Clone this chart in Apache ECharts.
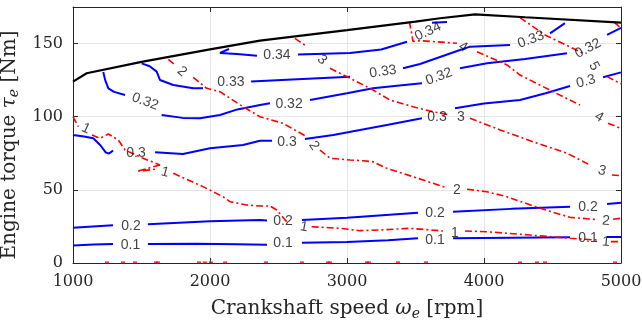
<!DOCTYPE html>
<html><head><meta charset="utf-8">
<script src="https://cdn.jsdelivr.net/npm/echarts@6/dist/echarts.min.js"></script>
<style>html,body{margin:0;padding:0;background:#fff}#c{width:642px;height:324px}</style>
</head><body><div id="c"></div>
<script>
// ---- data (rpm, torque Nm); null = break for a contour label ----
const xTicks = [1000, 2000, 3000, 4000, 5000];
const yTicks = [0, 50, 100, 150];

const maxTorque = [[1000,124],[1100,129.7],[1500,137.5],[2000,146],[2365,152],[3000,159.2],[3500,165],[3679,167.3],[3934,170],[4300,168],[5000,164.3]];

const eff010 = [[1000,12],[1150,12.6],[1292,13],null,[1547,13],[1900,13.1],[2200,12.8],[2416,12.5],null,[2671,13.9],[3000,14.3],[3300,15.5],[3518,16.9],null,[3774,16.9],[4200,17.3],[4628,17.6],null,[4898,17.8],[5000,17.8]];
const eff020 = [[1000,24.1],[1292,25.8],null,[1547,26.5],[2000,28.5],[2365,29.4],[2416,29],null,[2671,29.4],[3000,31],[3518,34.4],null,[3774,35.1],[4200,37],[4628,38.5],null,[4898,40.3],[5000,41.2]];
const eff030 = [[1000,87.5],[1080,86.5],[1148,85.3],[1200,80.5],[1240,75.5],[1262,74.8],[1292,76.8],null,[1599,75.7],[1803,74.5],[2000,78.4],[2241,80.7],[2365,83.6],[2453,83.6],null,[2693,84.8],[2900,87.5],[3095,90.9],[3300,94.5],[3547,98.9],null,[3788,105.8],[4000,109],[4263,111.4],[4450,116],[4628,121],null,[4869,127],[5000,130.3]];
const eff032 = [[1221,130.5],[1235,125],[1258,119.4],[1300,117],[1380,114.8],null,[1647,101.2],[1800,99.2],[1927,98.9],[2073,101.2],[2200,105],[2365,108],[2438,109.2],null,[2730,111.4],[3000,116],[3190,119.4],[3400,121.5],[3547,122.8],null,[3825,133.1],[4022,136.5],[4300,139.5],[4606,143.4],null,[4898,155.9],[5000,160.7]];
const eff033 = [[1501,136.5],[1560,134.5],[1611,130.8],[1635,125.1],[1732,121.7],[1878,119.4],[1949,119.4],null,[2300,124],[2600,125.5],[3022,127.4],null,[3409,133.1],[3533,136],[3679,140.8],[3825,145.6],[3898,147.9],[4190,149],null,[4482,157],[4591,164]];
const eff034 = [[2139,146.3],[2073,143.6],[2197,142.9],[2343,141.7],null,[2642,142.5],[3022,143.6],[3250,146],[3438,151.2],null,[3620,164.3],[3730,164.8]];

const fuel1 = [[1000,100],[1039,93.2],null,[1139,87.5],[1197,85.2],[1258,88.2],[1331,84.1],[1380,77.2],[1511,71.6],[1635,67],null,[1732,61.3],[1949,52.2],[2095,45.3],[2146,41.9],[2270,39.6],[2365,39],[2438,39],[2487,36.2],[2560,28.2],null,[2742,24.8],[2949,23.7],[3095,22.1],[3241,22.6],[3460,23.7],[3700,21.9],null,[3861,21.9],[4022,21.4],[4336,19.1],[4628,16.9],[4825,15.7],null,[4927,14.6],[5000,14.6]];
const fuel1b = [[1635,67],[1467,62.7],[1613,64.2]];
const fuel2 = [[1696,139.2],[1745,135.4],null,[1878,126.9],[1976,119.4],[2073,117.1],[2241,106.8],[2365,100],[2533,95.5],[2620,90.9],[2708,86.3],null,[2803,77.2],[2876,71.6],[3022,70.4],[3117,69.9],[3190,69.2],[3292,64.7],[3482,59],[3730,51.3],null,[3876,50.4],[4022,48.7],[4168,45.3],[4409,37.4],[4628,31.2],[4825,29.7],null,[4942,29.9],[5000,30.6]];
const fuel3 = [[2620,153.6],[2708,147.9],null,[2876,133.1],[3022,126.3],[3190,118.3],[3314,111.4],[3482,106.8],[3628,103.4],[3752,101.2],null,[3898,98.9],[4117,91],[4358,82.9],[4606,75],[4774,67],null,[4934,60.2],[5000,59.7]];
const fuel4 = [[3455,165],[3470,158],[3482,151.5],[3533,152],[3803,150.2],null,[3949,144.4],[4168,135.4],[4263,128.5],[4504,117.1],[4701,108],null,[4905,95.5],[5000,92]];
const fuel5 = [[4263,167.8],[4445,155.9],[4723,143.4],null,[4898,127.4],[5000,122.5]];
const fuel6 = [[4950,164.6],[5000,160.5]];
const bottomMarks = [1248,1365,1453,1606,1620,1920,1963,2007,2110,2409,2671,2861,2876,3146,3160,3372,3577,4263,4387,4445,4956];

// contour label anchors [rpm, torque, text]
const labelPts = [
  [1420,12.5,'0.1'],[2533,13.7,'0.1'],[3642,15.8,'0.1'],[4759,17.1,'0.1'],
  [1423,25.3,'0.2'],[2533,28.4,'0.2'],[3642,34.2,'0.2'],[4759,38.4,'0.2'],
  [1460,75.3,'0.3'],[2562,82.9,'0.3'],[3657,100,'0.3'],[4744,124,'0.3'],
  [1526,110.3,'0.32'],[2577,108.9,'0.32'],[3672,127.4,'0.32'],[4759,146.6,'0.32'],
  [2153,123.3,'0.33'],[3263,130.8,'0.33'],[4343,152.7,'0.33'],
  [2489,141.8,'0.34'],[3591,158.2,'0.34'],
  [1095,91.8,'1'],[1672,62,'1'],[2686,24.7,'1'],[3788,20.5,'1'],[4890,14.4,'1'],
  [1796,130.8,'2'],[2759,80.1,'2'],[3803,50,'2'],[4890,28.8,'2'],
  [2818,139,'3'],[3832,99.7,'3'],[4861,63,'3'],
  [3847,147.6,'4'],[4839,99.7,'4'],
  [4803,134.6,'5']
];
const labelRot = [0,0,0,0, 0,0,0,0, 0,0,0,15, -20,0,20,28, 0,8,20, 0,25,
  -25,-15,-10,0,-5, -40,-55,0,-5, -45,0,-15, -30,-30, -60];

// ---- chart ----
const toData = arr => arr.map(p => p === null ? ['-','-'] : p);
const BLUE = '#0000ff', RED = '#ff0000', INK = '#262626';
const serif = 'DejaVu Serif';

function blue(d){ return {type:'line', data:toData(d), showSymbol:false, symbol:'none', silent:true, z:3,
  lineStyle:{color:BLUE, width:2}}; }
function red(d){ return {type:'line', data:toData(d), showSymbol:false, symbol:'none', silent:true, z:4,
  lineStyle:{color:RED, width:1.6, type:[7,3,2,3]}}; }

const series = [
  blue(eff010), blue(eff020), blue(eff030), blue(eff032), blue(eff033), blue(eff034),
  red(fuel1), red(fuel1b), red(fuel2), red(fuel3), red(fuel4), red(fuel5), red(fuel6),
  {type:'line', data:maxTorque, showSymbol:false, symbol:'none', silent:true, z:5,
    lineStyle:{color:'#000', width:2.2}},
  {type:'scatter', data:bottomMarks.map(x=>[x,0.4]), symbol:'rect', symbolSize:[4,2], silent:true, z:4,
    itemStyle:{color:RED}},
  {type:'scatter', silent:true, z:6, symbolSize:1, itemStyle:{color:'rgba(0,0,0,0)'},
    data: labelPts.map((p,i)=>({value:[p[0],p[1]], name:p[2], label:{rotate:labelRot[i]}})),
    label:{show:true, position:'inside', formatter:'{b}', color:'#111', fontFamily:'Liberation Sans', fontSize:14}}
];

const axisCommon = {
  axisLine:{show:true, onZero:false, lineStyle:{color:INK, width:1}},
  axisTick:{show:true, inside:true, length:5, lineStyle:{color:INK}},
};
const plain = v => String(v);
const titleRich = {
  t:{fontFamily:serif, fontSize:20, color:INK, lineHeight:24},
  m:{fontFamily:serif, fontSize:20, fontStyle:'italic', color:INK, lineHeight:24},
  s:{fontFamily:serif, fontSize:14, fontStyle:'italic', color:INK, lineHeight:14, verticalAlign:'bottom'}
};

const option = {
  animation:false,
  grid:{left:73, top:7, width:548, height:256, show:false, containLabel:false, outerBoundsMode:'none'},
  xAxis:[
    Object.assign({type:'value', min:xTicks[0], max:xTicks[xTicks.length-1], interval:xTicks[1]-xTicks[0],
      position:'bottom',
      splitLine:{show:true, lineStyle:{color:'#e6e6e6', width:1}},
      axisLabel:{fontFamily:serif, fontSize:16, color:INK, margin:11, formatter:plain},
      name:'{t|Crankshaft speed }{m|ω}{s|e}{t| [rpm]}', nameLocation:'middle', nameGap:34,
      nameTextStyle:{rich:titleRich}}, axisCommon),
    Object.assign({type:'value', min:xTicks[0], max:xTicks[xTicks.length-1], interval:xTicks[1]-xTicks[0],
      position:'top', axisLabel:{show:false}, splitLine:{show:false}}, axisCommon)
  ],
  yAxis:[
    Object.assign({type:'value', min:yTicks[0], max:175, interval:yTicks[1]-yTicks[0], position:'left',
      splitLine:{show:true, lineStyle:{color:'#e6e6e6', width:1}},
      axisLabel:{fontFamily:serif, fontSize:16, color:INK, margin:10, showMaxLabel:false, formatter:plain},
      name:'{t|Engine torque }{m|τ}{s|e}{t| [Nm]}', nameLocation:'middle', nameGap:40,
      nameTextStyle:{rich:titleRich, padding:[0,20,0,0]}}, axisCommon),
    Object.assign({type:'value', min:yTicks[0], max:175, interval:yTicks[1]-yTicks[0], position:'right',
      axisLabel:{show:false}, splitLine:{show:false}}, axisCommon)
  ],
  series: series
};
const chart = echarts.init(document.getElementById('c'), null, {renderer:'canvas'});
chart.setOption(option);
</script></body></html>
